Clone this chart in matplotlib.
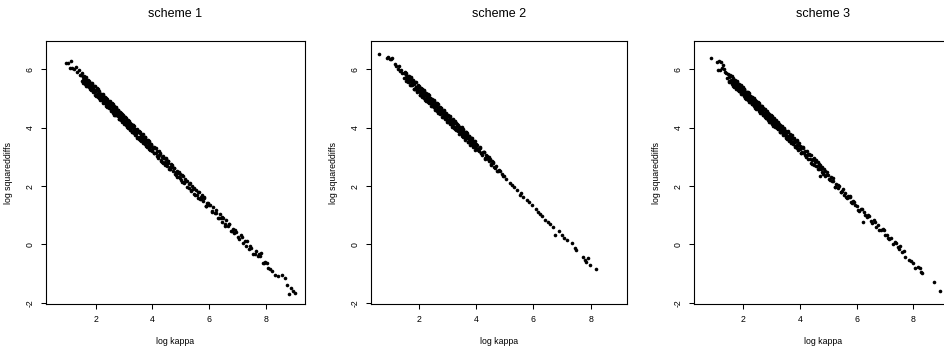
import matplotlib
matplotlib.use('Agg')
import matplotlib.pyplot as plt

plt.rcParams['font.family'] = ['Liberation Sans', 'DejaVu Sans']

# ---------------- data ----------------
titles = ['scheme 1', 'scheme 2', 'scheme 3']
x_label = 'log kappa'
y_label = 'log squareddiffs'
x_ticks = [2, 4, 6, 8]
y_ticks = [-2, 0, 2, 4, 6]

kappa1 = [0.94, 1.03, 1.13, 1.10, 1.16, 1.22, 1.30, 1.35, 1.40, 1.45,
          1.50, 1.52, 1.55, 1.58, 1.60, 1.62, 1.64, 1.66, 1.68, 1.70, 1.72, 1.74, 1.76, 1.78, 1.80, 1.82, 1.84, 1.86, 1.88, 1.90, 1.92, 1.94, 1.96, 1.98, 2.00,
          2.01, 2.03, 2.04, 2.06, 2.07, 2.09, 2.10, 2.12, 2.13, 2.15, 2.16, 2.18, 2.19, 2.21, 2.22, 2.24, 2.25, 2.27, 2.28, 2.30, 2.31, 2.33, 2.34, 2.36, 2.37, 2.39, 2.40, 2.42, 2.43, 2.45, 2.46, 2.48, 2.49,
          2.51, 2.53, 2.54, 2.56, 2.57, 2.59, 2.60, 2.62, 2.63, 2.65, 2.66, 2.68, 2.69, 2.71, 2.72, 2.74, 2.75, 2.77, 2.78, 2.80, 2.81, 2.83, 2.84, 2.86, 2.87, 2.89, 2.90, 2.92, 2.93, 2.95, 2.96, 2.98, 2.99,
          3.01, 3.03, 3.05, 3.07, 3.08, 3.10, 3.12, 3.14, 3.15, 3.17, 3.19, 3.21, 3.22, 3.24, 3.26, 3.28, 3.29, 3.31, 3.33, 3.35, 3.36, 3.38, 3.40, 3.42, 3.43, 3.45, 3.47, 3.49,
          3.51, 3.53, 3.55, 3.57, 3.60, 3.62, 3.64, 3.66, 3.68, 3.70, 3.72, 3.74, 3.76, 3.78, 3.80, 3.82, 3.84, 3.86, 3.88, 3.90, 3.92, 3.94, 3.96, 3.99,
          4.02, 4.06, 4.09, 4.13, 4.16, 4.20, 4.23, 4.27, 4.30, 4.34, 4.38, 4.41, 4.45, 4.49, 4.52, 4.56, 4.60, 4.63, 4.67, 4.71, 4.75, 4.79, 4.83, 4.87, 4.92, 4.96,
          5.02, 5.07, 5.12, 5.17, 5.22, 5.27, 5.32, 5.37, 5.42, 5.47, 5.52, 5.57, 5.62, 5.67, 5.72, 5.77, 5.82, 5.87, 5.92, 5.97,
          6.03, 6.08, 6.14, 6.19, 6.25, 6.30, 6.36, 6.42, 6.43, 6.48, 6.54, 6.59, 6.65, 6.70, 6.76, 6.82, 6.88, 6.95,
          7.02, 7.10, 7.17, 7.25, 7.32, 7.40, 7.48, 7.55, 7.63, 7.70, 7.78, 7.82, 7.88, 7.97, 8.08,
          8.15, 8.22, 8.30, 8.42, 8.55, 8.67, 8.75, 8.87, 8.96, 8.82, 9.02]
sqdiff1 = [6.20, 6.22, 6.28, 6.03, 6.06, 6.00, 6.08, 5.90, 5.98, 5.82,
           5.82, 5.60, 5.72, 5.61, 5.78, 5.60, 5.70, 5.43, 5.63, 5.47, 5.53, 5.63, 5.39, 5.51, 5.39, 5.52, 5.28, 5.41, 5.48, 5.31, 5.40, 5.22, 5.42, 5.26, 5.30,
           5.13, 5.28, 5.36, 5.16, 5.04, 5.25, 5.16, 5.06, 5.24, 4.98, 5.13, 5.02, 5.16, 4.95, 5.05, 5.14, 4.85, 5.05, 4.95, 5.03, 4.84, 4.98, 4.86, 5.01, 4.76, 4.87, 5.00, 4.80, 4.89, 4.73, 4.89, 4.67, 4.80,
           4.82, 4.60, 4.74, 4.82, 4.63, 4.57, 4.80, 4.67, 4.55, 4.70, 4.45, 4.63, 4.55, 4.66, 4.42, 4.58, 4.51, 4.40, 4.61, 4.42, 4.53, 4.30, 4.53, 4.40, 4.44, 4.27, 4.44, 4.29, 4.46, 4.29, 4.32, 4.19, 4.37,
           4.20, 4.35, 4.10, 4.24, 4.32, 4.09, 4.17, 3.99, 4.21, 4.07, 4.14, 3.96, 4.17, 4.02, 4.09, 3.86, 4.01, 3.90, 4.08, 3.83, 3.96, 3.78, 3.97, 3.85, 3.77, 3.89, 3.68, 3.89,
           3.85, 3.67, 3.85, 3.58, 3.70, 3.63, 3.73, 3.47, 3.66, 3.53, 3.68, 3.45, 3.53, 3.58, 3.37, 3.50, 3.40, 3.53, 3.27, 3.45, 3.28, 3.36, 3.42, 3.23,
           3.31, 3.12, 3.31, 3.12, 3.20, 2.95, 3.07, 3.11, 2.91, 2.99, 2.80, 2.97, 2.82, 2.93, 2.69, 2.79, 2.57, 2.67, 2.73, 2.53, 2.61, 2.41, 2.49, 2.52, 2.31, 2.41,
           2.20, 2.33, 2.15, 2.19, 1.96, 2.07, 2.09, 1.87, 1.90, 1.73, 1.86, 1.71, 1.80, 1.55, 1.64, 1.50, 1.58, 1.33, 1.42, 1.41,
           1.34, 1.14, 1.27, 1.08, 1.09, 0.91, 1.04, 0.92, 0.77, 0.89, 0.71, 0.84, 0.64, 0.71, 0.46, 0.54, 0.38, 0.44,
           0.26, 0.31, 0.06, 0.12, 0.12, -0.14, -0.13, -0.34, -0.21, -0.40, -0.38, -0.28, -0.63, -0.60, -0.80,
           -0.85, -0.92, -1.05, -1.08, -1.05, -1.16, -1.39, -1.50, -1.58, -1.70, -1.65]
# further points of the dense part of panel 1
kappa1b = [1.51, 1.54, 1.56, 1.59, 1.61, 1.64, 1.66, 1.69, 1.71, 1.74, 1.76, 1.79, 1.81, 1.84, 1.86, 1.89, 1.91, 1.94, 1.96, 1.99,
           2.01, 2.04, 2.06, 2.09, 2.11, 2.14, 2.16, 2.19, 2.21, 2.24, 2.26, 2.29, 2.31, 2.34, 2.36, 2.39, 2.41, 2.44, 2.46, 2.49,
           2.51, 2.54, 2.56, 2.59, 2.61, 2.64, 2.66, 2.69, 2.71, 2.74, 2.76, 2.79, 2.81, 2.84, 2.86, 2.89, 2.91, 2.94, 2.96, 2.99,
           3.01, 3.04, 3.06, 3.09, 3.11, 3.14, 3.16, 3.19, 3.21, 3.24, 3.26, 3.29, 3.31, 3.34, 3.36, 3.39, 3.41, 3.44, 3.46, 3.49,
           3.51, 3.54, 3.56, 3.59, 3.61, 3.64, 3.66, 3.69, 3.71, 3.74, 3.76, 3.79, 3.81, 3.84, 3.86, 3.89, 3.91, 3.94, 3.96, 3.99,
           4.04, 4.11, 4.18, 4.25, 4.32, 4.36, 4.43, 4.47, 4.54, 4.58,
           4.65, 4.81, 4.94, 5.05, 5.15, 5.34, 5.45, 5.60, 5.75, 5.90]
sqdiff1b = [5.86, 5.64, 5.54, 5.74, 5.65, 5.51, 5.74, 5.53, 5.42, 5.58, 5.60, 5.31, 5.49, 5.33, 5.53, 5.35, 5.23, 5.43, 5.24, 5.12,
            5.10, 5.33, 5.12, 5.31, 5.03, 5.17, 4.94, 5.16, 5.07, 4.88, 5.13, 4.93, 4.83, 5.05, 4.81, 4.95, 4.70, 4.93, 4.78, 4.92,
            4.86, 4.57, 4.84, 4.59, 4.52, 4.74, 4.65, 4.43, 4.70, 4.42, 4.46, 4.60, 4.30, 4.51, 4.29, 4.51, 4.37, 4.20, 4.43, 4.22,
            4.14, 4.37, 4.11, 4.25, 4.01, 4.26, 4.05, 4.23, 3.93, 4.13, 3.98, 3.84, 4.08, 3.84, 4.05, 3.76, 3.92, 3.96, 3.66, 3.86,
            3.90, 3.60, 3.81, 3.53, 3.78, 3.57, 3.77, 3.48, 3.63, 3.67, 3.38, 3.58, 3.35, 3.59, 3.34, 3.50, 3.22, 3.39, 3.45, 3.19,
            3.12, 3.31, 3.01, 3.15, 2.84, 3.03, 2.72, 2.95, 2.86, 2.59,
            2.76, 2.37, 2.48, 2.13, 2.25, 1.83, 1.94, 1.58, 1.68, 1.31]
kappa1c = [4.05, 4.15, 4.22, 4.29, 4.40, 4.47, 4.55, 4.62, 4.70, 4.77, 4.85, 4.90, 4.98, 5.05, 5.10, 5.20, 5.30, 5.40, 5.50, 5.60,
           5.70, 5.80, 5.90, 6.00, 6.11, 6.22, 6.33, 6.45, 6.57, 6.68, 6.80, 6.92, 7.05, 7.15, 7.28, 7.45, 7.60, 7.74, 7.92, 8.04]
sqdiff1c = [3.33, 3.04, 3.19, 2.87, 2.97, 2.76, 2.86, 2.57, 2.64, 2.63, 2.31, 2.46, 2.28, 2.37, 2.09, 2.16, 1.92, 2.00, 1.68, 1.79,
            1.56, 1.62, 1.31, 1.35, 1.11, 1.19, 0.92, 0.95, 0.64, 0.69, 0.46, 0.49, 0.20, 0.25, -0.05, -0.06, -0.32, -0.32, -0.65, -0.65]

kappa2 = [0.61, 0.87, 0.93, 0.98, 1.03, 1.05, 1.15, 1.20, 1.25, 1.30, 1.33, 1.38, 1.42,
          1.46, 1.48, 1.50, 1.53, 1.55, 1.57, 1.59, 1.62, 1.64, 1.66, 1.68, 1.71, 1.73, 1.75, 1.77, 1.80, 1.82, 1.84, 1.86, 1.89, 1.91, 1.93, 1.95, 1.97, 1.99,
          2.01, 2.03, 2.04, 2.06, 2.07, 2.09, 2.10, 2.12, 2.13, 2.15, 2.16, 2.18, 2.19, 2.21, 2.22, 2.24, 2.25, 2.27, 2.28, 2.30, 2.31, 2.33, 2.34, 2.36, 2.37, 2.39, 2.40, 2.42, 2.43, 2.45, 2.46, 2.48, 2.49,
          2.51, 2.53, 2.54, 2.56, 2.57, 2.59, 2.60, 2.62, 2.63, 2.65, 2.66, 2.68, 2.69, 2.71, 2.72, 2.74, 2.75, 2.77, 2.78, 2.80, 2.81, 2.83, 2.84, 2.86, 2.87, 2.89, 2.90, 2.92, 2.93, 2.95, 2.96, 2.98, 2.99,
          3.01, 3.03, 3.05, 3.07, 3.08, 3.10, 3.12, 3.14, 3.15, 3.17, 3.19, 3.21, 3.22, 3.24, 3.26, 3.28, 3.29, 3.31, 3.33, 3.35, 3.36, 3.38, 3.40, 3.42, 3.43, 3.45, 3.47, 3.49,
          3.51, 3.53, 3.55, 3.57, 3.60, 3.62, 3.64, 3.66, 3.68, 3.70, 3.72, 3.74, 3.76, 3.78, 3.80, 3.82, 3.84, 3.86, 3.88, 3.90, 3.92, 3.94, 3.96, 3.99,
          4.03, 4.08, 4.12, 4.18, 4.23, 4.29, 4.35, 4.40, 4.47, 4.53, 4.60, 4.66, 4.72, 4.80, 4.89, 4.96,
          5.05, 5.18, 5.25, 5.32, 5.42, 5.53, 5.58, 5.65, 5.77, 5.85, 5.94, 6.08, 6.17, 6.22, 6.30, 6.41, 6.50, 6.58, 6.70, 6.76, 6.88, 6.99, 7.08, 7.16, 7.34, 7.45, 7.50, 7.74, 7.80, 7.85, 7.90, 7.98, 8.17]
sqdiff2 = [6.51, 6.40, 6.42, 6.37, 6.35, 6.40, 6.18, 6.10, 6.02, 6.12, 5.95, 5.98, 5.86,
           5.86, 5.70, 5.91, 5.70, 5.82, 5.59, 5.71, 5.77, 5.57, 5.68, 5.59, 5.71, 5.45, 5.60, 5.48, 5.58, 5.34, 5.49, 5.55, 5.34, 5.41, 5.25, 5.42, 5.30, 5.41,
           5.38, 5.22, 5.13, 5.35, 5.25, 5.12, 5.34, 5.15, 5.23, 5.05, 5.23, 5.12, 5.24, 4.96, 5.13, 5.00, 5.16, 4.94, 5.06, 5.14, 4.94, 5.05, 4.85, 4.95, 5.03, 4.84, 4.96, 5.00, 4.84, 4.73, 4.91, 4.85, 4.74,
           4.74, 4.91, 4.76, 4.82, 4.63, 4.83, 4.73, 4.61, 4.83, 4.62, 4.69, 4.51, 4.71, 4.60, 4.71, 4.48, 4.62, 4.49, 4.67, 4.49, 4.58, 4.36, 4.58, 4.49, 4.38, 4.56, 4.39, 4.47, 4.29, 4.48, 4.35, 4.39, 4.25,
           4.42, 4.24, 4.31, 4.13, 4.37, 4.21, 4.28, 4.09, 4.20, 4.30, 4.07, 4.18, 4.00, 4.19, 4.04, 4.17, 3.91, 4.05, 4.09, 3.92, 4.10, 3.93, 4.00, 3.81, 3.95, 3.84, 3.97, 3.77,
           3.80, 3.93, 3.68, 3.84, 3.76, 3.64, 3.84, 3.63, 3.75, 3.52, 3.66, 3.71, 3.52, 3.62, 3.44, 3.66, 3.50, 3.57, 3.38, 3.48, 3.53, 3.34, 3.44, 3.32,
           3.39, 3.20, 3.34, 3.14, 3.16, 2.95, 3.07, 2.93, 2.93, 2.73, 2.79, 2.63, 2.53, 2.56, 2.40, 2.36,
           2.25, 2.10, 2.05, 1.98, 1.87, 1.70, 1.76, 1.62, 1.52, 1.46, 1.35, 1.20, 1.12, 1.06, 0.98, 0.84, 0.78, 0.70, 0.61, 0.33, 0.45, 0.33, 0.22, 0.15, 0.04, -0.13, -0.18, -0.42, -0.53, -0.60, -0.48, -0.70, -0.84]
kappa2b = [1.51, 1.54, 1.56, 1.59, 1.61, 1.64, 1.66, 1.69, 1.71, 1.74, 1.76, 1.79, 1.81, 1.84, 1.86, 1.89, 1.91, 1.94, 1.96, 1.99,
           2.01, 2.04, 2.06, 2.09, 2.11, 2.14, 2.16, 2.19, 2.21, 2.24, 2.26, 2.29, 2.31, 2.34, 2.36, 2.39, 2.41, 2.44, 2.46, 2.49,
           2.51, 2.54, 2.56, 2.59, 2.61, 2.64, 2.66, 2.69, 2.71, 2.74, 2.76, 2.79, 2.81, 2.84, 2.86, 2.89, 2.91, 2.94, 2.96, 2.99,
           3.01, 3.04, 3.06, 3.09, 3.11, 3.14, 3.16, 3.19, 3.21, 3.24, 3.26, 3.29, 3.31, 3.34, 3.36, 3.39, 3.41, 3.44, 3.46, 3.49,
           3.51, 3.54, 3.56, 3.59, 3.61, 3.64, 3.66, 3.69, 3.71, 3.74, 3.76, 3.79, 3.81, 3.84, 3.86, 3.89, 3.91, 3.94, 3.96, 3.99,
           4.05, 4.14, 4.21, 4.26, 4.33, 4.43, 4.50, 4.57,
           4.10, 4.16, 4.26, 4.32, 4.38, 4.44, 4.56, 4.63, 4.69, 4.76, 4.84, 4.93]
sqdiff2b = [5.89, 5.60, 5.87, 5.62, 5.55, 5.77, 5.68, 5.46, 5.73, 5.45, 5.49, 5.63, 5.33, 5.55, 5.33, 5.55, 5.40, 5.23, 5.46, 5.25,
            5.43, 5.13, 5.34, 5.06, 5.31, 5.09, 5.30, 5.01, 5.16, 5.20, 4.91, 5.11, 4.88, 5.12, 4.87, 5.03, 4.75, 4.92, 4.98, 4.73,
            4.94, 4.72, 4.62, 4.82, 4.73, 4.58, 4.81, 4.60, 4.49, 4.65, 4.67, 4.38, 4.56, 4.41, 4.61, 4.43, 4.31, 4.51, 4.32, 4.20,
            4.18, 4.41, 4.20, 4.39, 4.11, 4.25, 4.03, 4.25, 4.16, 3.97, 4.22, 4.01, 3.91, 4.13, 3.89, 4.03, 3.78, 4.01, 3.86, 4.01,
            3.72, 3.95, 3.69, 3.83, 3.59, 3.84, 3.63, 3.81, 3.51, 3.71, 3.56, 3.42, 3.66, 3.43, 3.64, 3.35, 3.51, 3.55, 3.25, 3.45,
            3.23, 3.32, 3.05, 3.16, 2.95, 3.00, 2.76, 2.83,
            3.30, 3.12, 3.17, 2.94, 3.02, 2.85, 2.87, 2.65, 2.69, 2.51, 2.52, 2.36]

kappa3 = [0.86, 1.08, 1.15, 1.22, 1.10, 1.17, 1.28, 1.25, 1.32, 1.36, 1.40,
          1.44, 1.46, 1.48, 1.50, 1.53, 1.55, 1.57, 1.59, 1.62, 1.64, 1.66, 1.68, 1.71, 1.73, 1.75, 1.77, 1.80, 1.82, 1.84, 1.86, 1.89, 1.91, 1.93, 1.95, 1.97, 1.99,
          2.01, 2.03, 2.04, 2.06, 2.07, 2.09, 2.10, 2.12, 2.13, 2.15, 2.16, 2.18, 2.19, 2.21, 2.22, 2.24, 2.25, 2.27, 2.28, 2.30, 2.31, 2.33, 2.34, 2.36, 2.37, 2.39, 2.40, 2.42, 2.43, 2.45, 2.46, 2.48, 2.49,
          2.51, 2.53, 2.54, 2.56, 2.57, 2.59, 2.60, 2.62, 2.63, 2.65, 2.66, 2.68, 2.69, 2.71, 2.72, 2.74, 2.75, 2.77, 2.78, 2.80, 2.81, 2.83, 2.84, 2.86, 2.87, 2.89, 2.90, 2.92, 2.93, 2.95, 2.96, 2.98, 2.99,
          3.01, 3.03, 3.05, 3.07, 3.08, 3.10, 3.12, 3.14, 3.15, 3.17, 3.19, 3.21, 3.22, 3.24, 3.26, 3.28, 3.29, 3.31, 3.33, 3.35, 3.36, 3.38, 3.40, 3.42, 3.43, 3.45, 3.47, 3.49,
          3.51, 3.53, 3.55, 3.57, 3.60, 3.62, 3.64, 3.66, 3.68, 3.70, 3.72, 3.74, 3.76, 3.78, 3.80, 3.82, 3.84, 3.86, 3.88, 3.90, 3.92, 3.94, 3.96, 3.99,
          4.02, 4.06, 4.10, 4.14, 4.18, 4.22, 4.26, 4.30, 4.34, 4.38, 4.42, 4.46, 4.50, 4.54, 4.58, 4.62, 4.66, 4.70, 4.74, 4.78, 4.83, 4.88, 4.93, 4.98, 4.70,
          5.03, 5.08, 5.13, 5.18, 5.23, 5.28, 5.33, 5.38, 5.43, 5.48, 5.54, 5.60, 5.66, 5.72, 5.77, 5.80, 5.87, 5.94,
          6.02, 6.10, 6.18, 6.21, 6.26, 6.35, 6.44, 6.52, 6.60, 6.68, 6.76, 6.85, 6.93, 7.00, 7.08, 7.15, 7.22, 7.30, 7.38, 7.45, 7.52, 7.60, 7.66,
          7.72, 7.83, 7.92, 8.00, 8.06, 8.18, 8.24, 8.27, 8.29, 8.74, 8.94]
sqdiff3 = [6.38, 6.26, 6.27, 6.26, 5.99, 5.98, 6.15, 6.05, 6.02, 5.92, 5.88,
           5.70, 5.83, 5.60, 5.74, 5.80, 5.57, 5.64, 5.58, 5.69, 5.42, 5.61, 5.48, 5.60, 5.38, 5.49, 5.56, 5.34, 5.44, 5.24, 5.43, 5.32, 5.45, 5.20, 5.29, 5.14, 5.30,
           5.33, 5.15, 5.25, 5.03, 5.17, 5.23, 5.04, 5.16, 5.08, 5.22, 4.96, 5.08, 5.12, 4.96, 4.87, 5.10, 4.98, 4.88, 5.01, 4.81, 5.05, 4.88, 4.99, 4.78, 4.91, 4.80, 4.96, 4.69, 4.88, 4.80, 4.71, 4.86, 4.73,
           4.63, 4.77, 4.84, 4.64, 4.70, 4.54, 4.74, 4.62, 4.73, 4.52, 4.63, 4.43, 4.63, 4.66, 4.47, 4.52, 4.40, 4.63, 4.45, 4.54, 4.34, 4.48, 4.35, 4.50, 4.26, 4.40, 4.45, 4.30, 4.21, 4.37, 4.41, 4.20, 4.30,
           4.34, 4.12, 4.25, 4.32, 4.12, 4.22, 4.01, 4.23, 4.09, 4.16, 3.98, 4.19, 4.05, 3.95, 4.09, 3.95, 4.10, 3.84, 3.97, 4.02, 3.86, 3.94, 3.77, 3.98, 3.83, 3.92, 3.74, 3.81,
           3.69, 3.86, 3.71, 3.85, 3.57, 3.72, 3.65, 3.56, 3.73, 3.55, 3.65, 3.43, 3.63, 3.50, 3.62, 3.38, 3.50, 3.38, 3.57, 3.30, 3.42, 3.45, 3.28, 3.38,
           3.34, 3.16, 3.33, 3.14, 3.21, 2.98, 3.08, 3.11, 2.92, 3.07, 2.88, 2.93, 2.73, 2.83, 2.70, 2.82, 2.60, 2.67, 2.58, 2.65, 2.41, 2.52, 2.38, 2.39, 2.36,
           2.24, 2.32, 2.16, 2.18, 1.97, 2.08, 1.95, 2.00, 1.79, 1.84, 1.69, 1.77, 1.60, 1.64, 1.64, 1.46, 1.49, 1.34,
           1.33, 1.14, 1.22, 0.78, 1.10, 0.93, 0.97, 0.79, 0.83, 0.61, 0.66, 0.51, 0.53, 0.34, 0.34, 0.18, 0.22, 0.02, 0.05, -0.09, -0.07, -0.25, -0.24,
           -0.42, -0.53, -0.58, -0.64, -0.80, -0.76, -0.82, -0.93, -0.98, -1.27, -1.58]
kappa3b = [1.51, 1.54, 1.56, 1.59, 1.61, 1.64, 1.66, 1.69, 1.71, 1.74, 1.76, 1.79, 1.81, 1.84, 1.86, 1.89, 1.91, 1.94, 1.96, 1.99,
           2.01, 2.04, 2.06, 2.09, 2.11, 2.14, 2.16, 2.19, 2.21, 2.24, 2.26, 2.29, 2.31, 2.34, 2.36, 2.39, 2.41, 2.44, 2.46, 2.49,
           2.51, 2.54, 2.56, 2.59, 2.61, 2.64, 2.66, 2.69, 2.71, 2.74, 2.76, 2.79, 2.81, 2.84, 2.86, 2.89, 2.91, 2.94, 2.96, 2.99,
           3.01, 3.04, 3.06, 3.09, 3.11, 3.14, 3.16, 3.19, 3.21, 3.24, 3.26, 3.29, 3.31, 3.34, 3.36, 3.39, 3.41, 3.44, 3.46, 3.49,
           3.51, 3.54, 3.56, 3.59, 3.61, 3.64, 3.66, 3.69, 3.71, 3.74, 3.76, 3.79, 3.81, 3.84, 3.86, 3.89, 3.91, 3.94, 3.96, 3.99,
           4.04, 4.08, 4.16, 4.24, 4.28, 4.36, 4.44, 4.48, 4.56, 4.64, 4.72, 4.80]
sqdiff3b = [5.55, 5.78, 5.57, 5.76, 5.48, 5.62, 5.40, 5.62, 5.53, 5.34, 5.59, 5.38, 5.28, 5.50, 5.26, 5.41, 5.16, 5.39, 5.24, 5.38,
            5.09, 5.32, 5.06, 5.21, 4.97, 5.22, 5.01, 5.19, 4.89, 5.09, 4.94, 4.80, 5.04, 4.81, 5.02, 4.73, 4.89, 4.93, 4.63, 4.83,
            4.87, 4.58, 4.79, 4.51, 4.76, 4.54, 4.74, 4.45, 4.60, 4.64, 4.36, 4.56, 4.33, 4.57, 4.32, 4.48, 4.20, 4.37, 4.43, 4.18,
            4.39, 4.17, 4.07, 4.27, 4.18, 4.03, 4.26, 4.05, 3.94, 4.11, 4.13, 3.84, 4.02, 3.86, 4.06, 3.88, 3.76, 3.97, 3.78, 3.66,
            3.89, 3.60, 3.87, 3.62, 3.55, 3.77, 3.69, 3.47, 3.74, 3.46, 3.50, 3.64, 3.34, 3.55, 3.33, 3.56, 3.41, 3.24, 3.47, 3.26,
            3.14, 3.35, 3.06, 3.21, 2.92, 3.08, 2.76, 2.95, 2.90, 2.59, 2.71, 2.45]
kappa3c = [4.05, 4.12, 4.20, 4.32, 4.40, 4.52, 4.60, 4.68, 4.76, 4.85, 4.90, 4.96, 5.06, 5.15, 5.25, 5.35, 5.45,
           5.52, 5.63, 5.70, 5.75, 5.84, 5.92, 6.05, 6.14, 6.28, 6.40, 6.55, 6.64, 6.80, 6.97, 7.12, 7.35, 7.50]
sqdiff3c = [3.15, 3.32, 3.04, 3.10, 2.80, 2.90, 2.68, 2.77, 2.48, 2.57, 2.33, 2.49, 2.22, 2.27, 1.98, 2.03, 1.80,
            1.89, 1.61, 1.67, 1.66, 1.41, 1.46, 1.17, 1.23, 1.00, 1.01, 0.75, 0.78, 0.51, 0.48, 0.22, 0.10, -0.15]

series = [(kappa1 + kappa1b + kappa1c, sqdiff1 + sqdiff1b + sqdiff1c),
          (kappa2 + kappa2b, sqdiff2 + sqdiff2b),
          (kappa3 + kappa3b + kappa3c, sqdiff3 + sqdiff3b + sqdiff3c)]
for kx, ky in series:
    assert len(kx) == len(ky), (len(kx), len(ky))

# ---------------- layout ----------------
W, H = 945, 353
fig = plt.figure(figsize=(W / 100, H / 100), dpi=100)
fig.patch.set_facecolor('white')

box_top, box_bottom = 41, 304
boxes = [(46, 305), (370.7, 626.7), (694, 953)]
xlims = [(0.25, 9.37), (0.31, 9.26), (0.26, 9.40)]
ylim = (-2.04, 6.97)

for i, ((kx, ky), (l, r)) in enumerate(zip(series, boxes)):
    wpx = r - l
    hpx = box_bottom - box_top
    ax = fig.add_axes([l / W, (H - box_bottom) / H, wpx / W, hpx / H])
    ax.plot(kx, ky, linestyle='none', marker='o', ms=2.6, mfc='black',
            mec='black', mew=0)
    ax.set_xlim(*xlims[i])
    ax.set_ylim(*ylim)
    ax.set_xticks(x_ticks)
    ax.set_yticks(y_ticks)
    ax.set_xticklabels([str(t) for t in x_ticks])
    ax.set_yticklabels([str(t) for t in y_ticks])
    ax.tick_params(direction='out', length=3.8, width=0.75, labelsize=6.3,
                   pad=4.2, colors='black')
    ax.tick_params(axis='y', labelrotation=90)
    for lab in ax.get_yticklabels():
        lab.set_va('center')
    for sp in ax.spines.values():
        sp.set_linewidth(0.8)
        sp.set_color('black')
    ax.text(0.5, 1 + 27 / hpx, titles[i], transform=ax.transAxes,
            ha='center', va='center', fontsize=9)
    ax.text(0.5, -37.7 / hpx, x_label, transform=ax.transAxes,
            ha='center', va='center', fontsize=6.3)
    ax.text(-37 / wpx, 0.5, y_label, transform=ax.transAxes, rotation=90,
            ha='center', va='center', fontsize=6.3)

fig.savefig('out.png', dpi=100)
